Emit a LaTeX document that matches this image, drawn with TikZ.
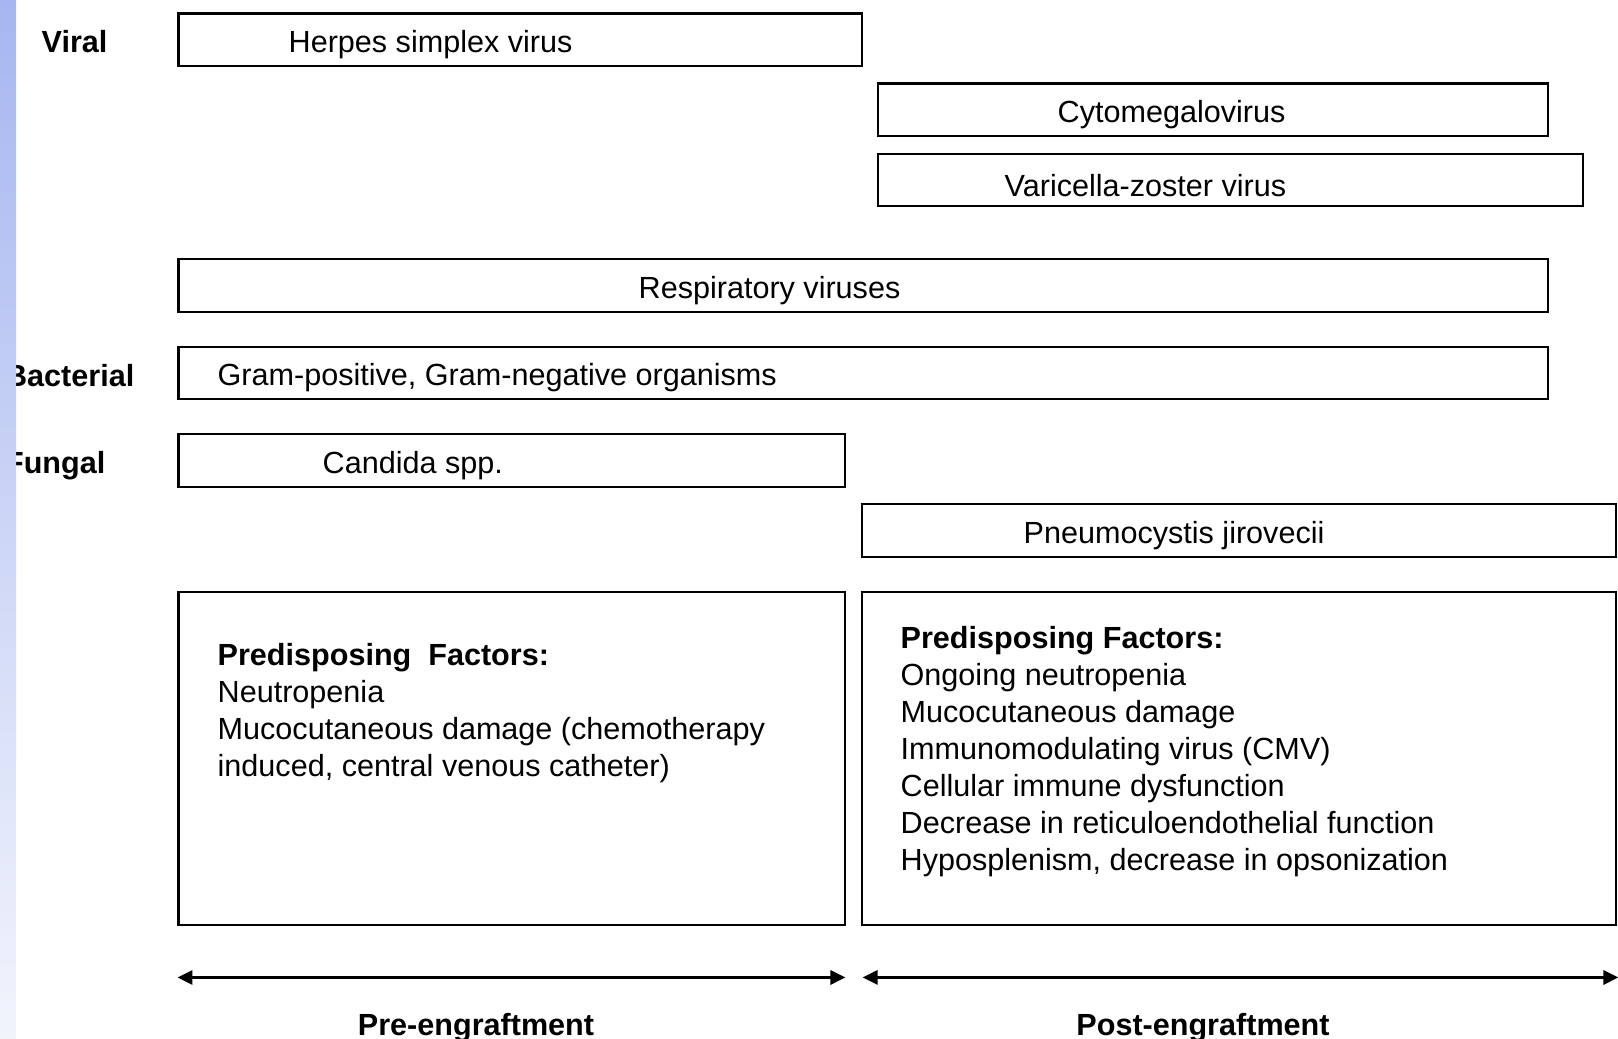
\documentclass[tikz,border=0pt]{standalone}
\usepackage{fontspec}
\setmainfont{Liberation Sans}
\usepackage{xcolor}
\usepackage{tikz}
\usetikzlibrary{arrows.meta, positioning}

\definecolor{bartop}{RGB}{166,182,240}
\definecolor{barmid}{RGB}{212,220,249}
\definecolor{barbot}{RGB}{242,244,252}

\begin{document}
\begin{tikzpicture}[
    bar/.style={draw, line width=0.7pt, inner sep=0pt, anchor=north west},
    txt/.style={inner sep=0pt, font=\fontsize{8.7}{10.5}\selectfont},
    inbox/.style={txt, yshift=-0.05cm},
    grp/.style={txt, font=\fontsize{8.7}{10.5}\selectfont\bfseries},
    list/.style={txt, align=left},
    arr/.style={{Triangle[length=1.5mm, width=1.4mm]}-{Triangle[length=1.5mm, width=1.4mm]}, line width=0.85pt},
]
\useasboundingbox (0,0) rectangle (16.18,-10.39);

% Group labels
\node[grp, anchor=west] (viral) at (0.41,-0.42) {Viral};
\node[grp, anchor=east] (bact) at (1.35,-3.76) {Bacterial};
\node[grp, anchor=east] (fung) at (1.06,-4.66) {Fungal};

% Viral
\node[bar, minimum width=6.83cm, minimum height=0.526cm] (hsv) at (1.775,-0.124) {};
\node[inbox, right=1.105cm of hsv.west] (hsvt) {Herpes simplex virus};
\node[bar, minimum width=6.70cm, minimum height=0.525cm] (cmv) at (8.77,-0.825) {};
\node[inbox, right=1.80cm of cmv.west] (cmvt) {Cytomegalovirus};
\node[bar, minimum width=7.05cm, minimum height=0.52cm] (vzv) at (8.77,-1.53) {};
\node[inbox, right=1.27cm of vzv.west] (vzvt) {Varicella-zoster virus};
\node[bar, minimum width=13.695cm, minimum height=0.526cm] (resp) at (1.775,-2.58) {};
\node[inbox, right=4.605cm of resp.west] (respt) {Respiratory viruses};

% Bacterial
\node[bar, minimum width=13.695cm, minimum height=0.523cm] (gram) at (1.775,-3.457) {};
\node[inbox, right=0.395cm of gram.west] (gramt) {Gram-positive, Gram-negative organisms};

% Fungal
\node[bar, minimum width=6.665cm, minimum height=0.53cm] (cand) at (1.775,-4.33) {};
\node[inbox, right=1.445cm of cand.west] (candt) {Candida spp.};
\node[bar, minimum width=7.544cm, minimum height=0.535cm] (pcp) at (8.606,-5.025) {};
\node[inbox, right=1.624cm of pcp.west] (pcpt) {Pneumocystis jirovecii};

% Predisposing factors
\node[bar, minimum width=6.665cm, minimum height=3.326cm] (pre) at (1.775,-5.91) {};
\node[list, below right=0.52cm and 0.395cm of pre.north west] (pret) {%
    \textbf{Predisposing\ \ Factors:}\\
    Neutropenia\\
    Mucocutaneous damage (chemotherapy\\
    induced, central venous catheter)};
\node[bar, minimum width=7.544cm, minimum height=3.326cm] (post) at (8.606,-5.91) {};
\node[list, below right=0.35cm and 0.394cm of post.north west] (postt) {%
    \textbf{Predisposing Factors:}\\
    Ongoing neutropenia\\
    Mucocutaneous damage\\
    Immunomodulating virus (CMV)\\
    Cellular immune dysfunction\\
    Decrease in reticuloendothelial function\\
    Hyposplenism, decrease in opsonization};

% Time line
\coordinate (preL) at ([yshift=-0.514cm]pre.south west);
\coordinate (preR) at ([xshift=-0.01cm, yshift=-0.514cm]pre.south east);
\coordinate (postL) at ([xshift=0.02cm, yshift=-0.514cm]post.south west);
\coordinate (postR) at ([xshift=0.01cm, yshift=-0.514cm]post.south east);
\draw[arr] (preL) -- (preR);
\draw[arr] (postL) -- (postR);
\node[grp] (prelbl) at (4.76,-10.28) {Pre-engraftment};
\node[grp] (postlbl) at (12.03,-10.28) {Post-engraftment};

% Side bar
\shade[top color=bartop, middle color=barmid, bottom color=barbot] (0,0) rectangle (0.16,-10.39);
\end{tikzpicture}
\end{document}
